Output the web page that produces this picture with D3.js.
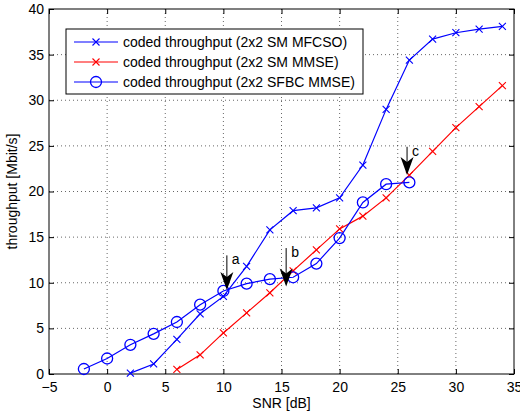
<!DOCTYPE html>
<html>
<head>
<meta charset="utf-8">
<script src="https://cdn.jsdelivr.net/npm/d3@7"></script>
<style>
  body { margin: 0; background: #fff; }
  text { font-family: "Liberation Sans", Arial, sans-serif; }
</style>
</head>
<body>
<svg id="chart" width="520" height="414"></svg>
<script>
// SNR values and throughput series
const snrMfcso = [2, 4, 6, 8, 10, 12, 14, 16, 18, 20, 22, 24, 26, 28, 30, 32, 34];
const thrMfcso = [0.1, 1.1, 3.8, 6.6, 8.5, 11.8, 15.8, 17.9, 18.2, 19.3, 22.9, 29.0, 34.4, 36.7, 37.4, 37.8, 38.1];

const snrMmse = [6, 8, 10, 12, 14, 16, 18, 20, 22, 24, 26, 28, 30, 32, 34];
const thrMmse = [0.5, 2.1, 4.5, 6.7, 8.9, 11.3, 13.6, 15.9, 17.3, 19.3, 21.8, 24.4, 27.0, 29.3, 31.6];

const snrSfbc = [-2, 0, 2, 4, 6, 8, 10, 12, 14, 16, 18, 20, 22, 24, 26];
const thrSfbc = [0.55, 1.7, 3.2, 4.4, 5.7, 7.6, 9.1, 9.9, 10.4, 10.6, 12.1, 14.9, 18.8, 20.8, 21.0];

const xTicks = [-5, 0, 5, 10, 15, 20, 25, 30, 35];
const yTicks = [0, 5, 10, 15, 20, 25, 30, 35, 40];

const legendLabels = [
  "coded throughput (2x2 SM MFCSO)",
  "coded throughput (2x2 SM MMSE)",
  "coded throughput (2x2 SFBC MMSE)"
];

// annotation arrows: label, tip x, tip y, tail y
const arrowLabels = ["a", "b", "c"];
const arrowX = [10.3, 15.4, 25.8];
const arrowTipY = [9.2, 9.6, 21.8];
const arrowTailY = [13.0, 13.8, 24.9];

const svg = d3.select("#chart");
const pLeft = 49, pRight = 514, pTop = 9, pBottom = 374;
const fs = 14;

const x = d3.scaleLinear().domain([-5, 35]).range([pLeft, pRight]);
const y = d3.scaleLinear().domain([0, 40]).range([pBottom, pTop]);

// dotted grid
const grid = svg.append("g");
xTicks.slice(1, -1).forEach(t => {
  grid.append("line").attr("x1", x(t)).attr("x2", x(t)).attr("y1", pTop).attr("y2", pBottom)
    .attr("stroke", "#000").attr("stroke-width", 0.6).attr("stroke-dasharray", "1,3");
});
yTicks.slice(1, -1).forEach(t => {
  grid.append("line").attr("x1", pLeft).attr("x2", pRight).attr("y1", y(t)).attr("y2", y(t))
    .attr("stroke", "#000").attr("stroke-width", 0.6).attr("stroke-dasharray", "1,3");
});

// axes with inward ticks
svg.append("g").attr("transform", `translate(0,${pBottom})`)
  .call(d3.axisBottom(x).tickValues(xTicks).tickSizeInner(-5).tickSizeOuter(0).tickPadding(8))
  .call(g => g.select(".domain").remove());
svg.append("g").attr("transform", `translate(0,${pTop})`)
  .call(d3.axisTop(x).tickValues(xTicks).tickSizeInner(-5).tickSizeOuter(0).tickFormat(""))
  .call(g => g.select(".domain").remove());
svg.append("g").attr("transform", `translate(${pLeft},0)`)
  .call(d3.axisLeft(y).tickValues(yTicks).tickSizeInner(-5).tickSizeOuter(0).tickPadding(5))
  .call(g => g.select(".domain").remove());
svg.append("g").attr("transform", `translate(${pRight},0)`)
  .call(d3.axisRight(y).tickValues(yTicks).tickSizeInner(-5).tickSizeOuter(0).tickFormat(""))
  .call(g => g.select(".domain").remove());

svg.selectAll(".tick text").attr("font-size", fs).attr("fill", "#000")
  .attr("font-family", "Liberation Sans, Arial, sans-serif");

svg.append("rect").attr("x", pLeft).attr("y", pTop).attr("width", pRight - pLeft).attr("height", pBottom - pTop)
  .attr("fill", "none").attr("stroke", "#000").attr("stroke-width", 1);

// axis labels
svg.append("text").attr("x", (pLeft + pRight) / 2).attr("y", 408).attr("text-anchor", "middle")
  .attr("font-size", fs).text("SNR [dB]");
svg.append("text").attr("transform", `translate(17,${(pTop + pBottom) / 2}) rotate(-90)`)
  .attr("text-anchor", "middle").attr("font-size", fs).text("throughput [Mbit/s]");

const line = d3.line().x(d => x(d[0])).y(d => y(d[1]));

function crossMark(g, cx, cy, color) {
  const s = 3.5;
  g.append("path").attr("d", `M${cx - s},${cy - s}L${cx + s},${cy + s}M${cx - s},${cy + s}L${cx + s},${cy - s}`)
    .attr("stroke", color).attr("stroke-width", 1.1).attr("fill", "none");
}
function circleMark(g, cx, cy, color) {
  g.append("circle").attr("cx", cx).attr("cy", cy).attr("r", 5.5)
    .attr("stroke", color).attr("stroke-width", 1.3).attr("fill", "none");
}

const series = [
  { xs: snrMfcso, ys: thrMfcso, color: "#0000ff", mark: crossMark },
  { xs: snrMmse, ys: thrMmse, color: "#ff0000", mark: crossMark },
  { xs: snrSfbc, ys: thrSfbc, color: "#0000ff", mark: circleMark }
];

series.forEach(s => {
  const pts = s.xs.map((v, i) => [v, s.ys[i]]);
  const g = svg.append("g");
  g.append("path").datum(pts).attr("d", line).attr("fill", "none")
    .attr("stroke", s.color).attr("stroke-width", 1.2);
  pts.forEach(p => s.mark(g, x(p[0]), y(p[1]), s.color));
});

// arrows
arrowLabels.forEach((lab, i) => {
  const tx = x(arrowX[i]), ty = y(arrowTipY[i]), sy = y(arrowTailY[i]);
  const g = svg.append("g");
  g.append("line").attr("x1", tx).attr("x2", tx).attr("y1", sy).attr("y2", ty - 6)
    .attr("stroke", "#000").attr("stroke-width", 1);
  g.append("path")
    .attr("d", `M${tx},${ty}L${tx - 6.5},${ty - 18}L${tx},${ty - 13}L${tx + 6.5},${ty - 18}Z`)
    .attr("fill", "#000");
  g.append("text").attr("x", tx + 5).attr("y", sy + 9).attr("font-size", fs).text(lab);
});

// legend
const lg = svg.append("g");
lg.append("rect").attr("x", 66).attr("y", 29).attr("width", 297).attr("height", 65)
  .attr("fill", "#fff").attr("stroke", "#000").attr("stroke-width", 1);
legendLabels.forEach((lab, i) => {
  const ly = 42 + i * 20;
  const s = series[i];
  lg.append("line").attr("x1", 74).attr("x2", 118).attr("y1", ly).attr("y2", ly)
    .attr("stroke", s.color).attr("stroke-width", 1.2);
  s.mark(lg, 96, ly, s.color);
  lg.append("text").attr("x", 123).attr("y", ly + 5).attr("font-size", fs).text(lab);
});
</script>
</body>
</html>
